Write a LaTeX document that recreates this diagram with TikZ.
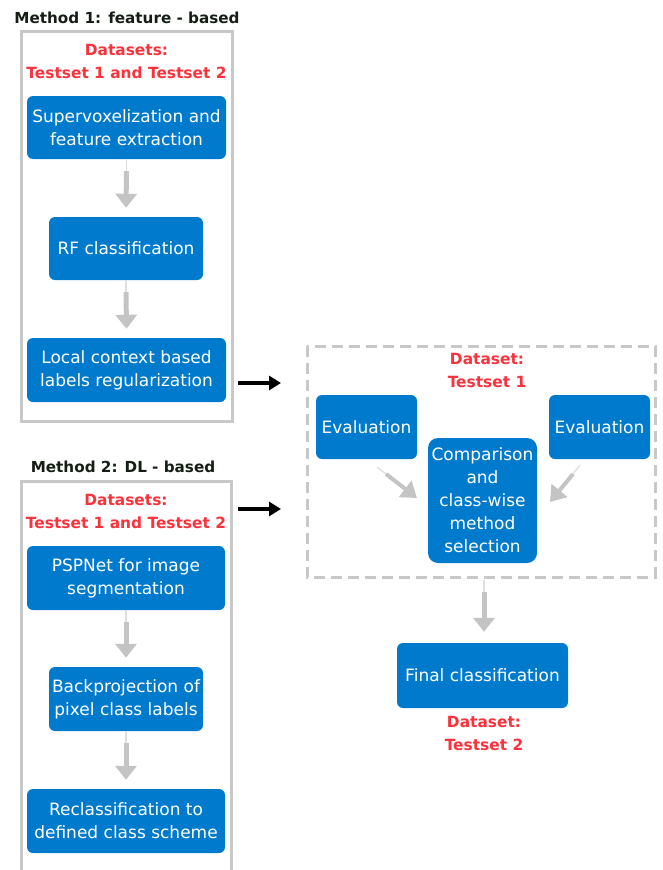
\documentclass[tikz,border=0pt]{standalone}
\usepackage{fontspec}
\setmainfont{DejaVu Sans}
\usetikzlibrary{arrows.meta}
\definecolor{myblue}{RGB}{0,122,204}
\definecolor{myred}{RGB}{250,50,60}
\definecolor{framegray}{RGB}{200,200,200}
\definecolor{arrowgray}{RGB}{196,196,196}
\definecolor{thingray}{RGB}{222,222,222}
\definecolor{titleblack}{RGB}{20,30,20}
\begin{document}
\begin{tikzpicture}[x=1pt,y=-1pt,
  bluebox/.style={rectangle, rounded corners=6pt, fill=myblue, text=white, align=center, inner sep=0pt, font=\fontsize{17}{23}\selectfont},
  redtxt/.style={text=myred, align=center, inner sep=0pt, font=\bfseries\fontsize{15.4}{23}\selectfont},
  titletxt/.style={text=titleblack, inner sep=0pt, font=\bfseries\fontsize{15.2}{20}\selectfont},
  frame/.style={draw=framegray, line width=3pt},
  dframe/.style={draw=framegray, line width=3pt, dash pattern=on 11pt off 6pt},
  thinpart/.style={draw=thingray, line width=1.2pt},
  garrow/.style={draw=arrowgray, line width=5pt, -{Triangle[width=21pt,length=14pt]}},
  darrow/.style={draw=arrowgray, line width=4pt, -{Triangle[width=20pt,length=15pt]}},
  barrow/.style={draw=black, line width=4pt, -{Triangle[width=14pt,length=12pt]}}
]
\useasboundingbox (0,0) rectangle (662,870);
\fill[white] (0,0) rectangle (662,870);

% Method 1
\node[titletxt] (t1) at (127,18) {Method 1: feature - based};
\draw[frame] (21,31) rectangle (232,421);
\node[redtxt] (r1) at (126.5,61.5) {Datasets:\\Testset 1 and Testset 2};
\node[bluebox, minimum width=199pt, minimum height=63pt] (b1) at (126.5,127.5) {Supervoxelization and\\feature extraction};
\node[bluebox, minimum width=154pt, minimum height=63pt] (b2) at (126,248.5) {RF classification};
\node[bluebox, minimum width=199pt, minimum height=64pt] (b3) at (126.5,370) {Local context based\\labels regularization};

% Method 2
\node[titletxt] (t2) at (123,467) {Method 2: DL - based};
\draw[frame] (21,872) -- (21,481) -- (231,481) -- (231,872);
\node[redtxt] (r2) at (126,511.5) {Datasets:\\Testset 1 and Testset 2};
\node[bluebox, minimum width=198pt, minimum height=64pt] (b4) at (126,578) {PSPNet for image\\segmentation};
\node[bluebox, minimum width=154pt, minimum height=64pt] (b5) at (126,699) {Backprojection of\\pixel class labels};
\node[bluebox, minimum width=198pt, minimum height=64pt] (b6) at (126,821) {Reclassification to\\defined class scheme};

% Evaluation block
\draw[dframe] (307,346) rectangle (655,577);
\node[redtxt] (r3) at (487,370) {Dataset:\\Testset 1};
\node[bluebox, minimum width=101pt, minimum height=64pt] (e1) at (366.5,427) {Evaluation};
\node[bluebox, minimum width=101pt, minimum height=64pt] (e2) at (599.5,427) {Evaluation};
\node[bluebox, rounded corners=10pt, minimum width=109pt, minimum height=125pt] (cmp) at (482.5,500.5) {Comparison\\and\\class-wise\\method\\selection};
\node[bluebox, minimum width=171pt, minimum height=65pt] (fin) at (482.5,675.5) {Final classification};
\node[redtxt] (r4) at (484,733.5) {Dataset:\\Testset 2};

% gray vertical arrows
\foreach \a/\b in {b1/b2, b2/b3, b4/b5, b5/b6}{
  \draw[thinpart] (\a.south) -- ([yshift=-12pt]\a.south);
  \draw[garrow] ([yshift=-12pt]\a.south) -- ([yshift=9pt]\b.north);
}
\coordinate (dbot) at (484,580);
\coordinate (dbot2) at (484,592);
\draw[thinpart] (dbot) -- (dbot2);
\draw[garrow] (dbot2) -- ([xshift=1.5pt,yshift=11pt]fin.north);

% diagonal arrows
\coordinate (l0) at (377,467);
\coordinate (l1) at (386,474);
\coordinate (l2) at (417,498);
\draw[thinpart] (l0) -- (l1);
\draw[darrow] (l1) -- (l2);
\coordinate (q0) at (580,465);
\coordinate (q1) at (573,474);
\coordinate (q2) at (550,502);
\draw[thinpart] (q0) -- (q1);
\draw[darrow] (q1) -- (q2);

% black arrows
\coordinate (k1) at (281,383);
\coordinate (k2) at (281,509);
\draw[barrow] ([xshift=12pt]b3.east |- k1) -- (k1);
\draw[barrow] ([xshift=13pt]b4.east |- k2) -- (k2);
\end{tikzpicture}
\end{document}
